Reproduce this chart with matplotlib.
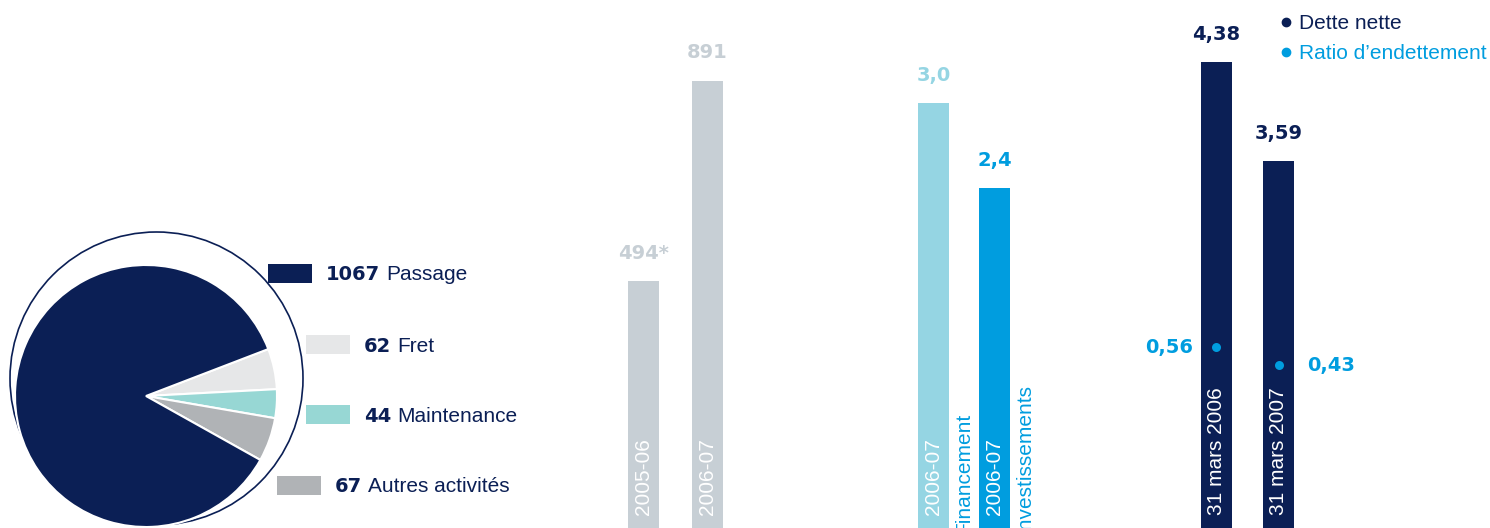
import matplotlib.pyplot as plt
from matplotlib.lines import Line2D
from matplotlib.patches import Circle, Rectangle

# chiffre d'affaires par activité
segments = ['Passage', 'Fret', 'Maintenance', 'Autres activités']
segment_values = [1067, 62, 44, 67]

# résultat
result_years = ['2005-06', '2006-07']
result_values = [494, 891]
result_labels = ['494*', '891']

# financement / investissements
flow_years = ['2006-07', '2006-07']
flow_names = ['Financement', 'Investissements']
flow_values = [3.0, 2.4]

# dette nette et ratio d'endettement
debt_dates = ['31 mars 2006', '31 mars 2007']
debt_values = [4.38, 3.59]
ratio_values = [0.56, 0.43]

NAVY = '#0b1f55'
GREY = '#c7cfd5'
CYAN = '#95d5e3'
BLUE = '#009ddf'
pie_colors = [NAVY, '#e6e7e8', '#97d7d4', '#b0b3b6']

BOLD = dict(family='DejaVu Sans', weight='bold', fontsize=14)
LIGHT = dict(family='Liberation Sans', fontsize=15)

W, H = 1490, 528
fig = plt.figure(figsize=(W / 100, H / 100), dpi=100)


def fr(v, nd):
    return f'{v:.{nd}f}'.replace('.', ',')


# --- camembert ---
axp = fig.add_axes([0, 0, 1, 1])
axp.add_patch(Circle((156.5, H - 378.5), 146.5, fill=False, ec=NAVY, lw=1.2, zorder=0))
order = [1, 2, 3, 0]
axp.pie([segment_values[i] for i in order], colors=[pie_colors[i] for i in order],
        startangle=21, counterclock=False, center=(146, H - 396), radius=131,
        frame=True, wedgeprops=dict(edgecolor='white', linewidth=1.5))
axp.set_xlim(0, W)
axp.set_ylim(0, H)
axp.axis('off')

key_boxes = [(268, 264), (306, 335), (306, 405), (277, 476)]
r = fig.canvas.get_renderer()
for i, (bx, by) in enumerate(key_boxes):
    axp.add_patch(Rectangle((bx, H - by - 19), 44, 19, color=pie_colors[i], lw=0, zorder=3))
    yb = H - (by + 9.5 + 7)
    t = axp.text(bx + 58, yb, str(segment_values[i]), color=NAVY, va='baseline', **BOLD)
    w = t.get_window_extent(r).width
    axp.text(bx + 58 + w + 6, yb, segments[i], color=NAVY, va='baseline', **LIGHT)


def bar_panel(c0, step, ylim):
    ax = fig.add_axes([(c0 - step) / W, 0, 3 * step / W, 1])
    ax.set_xlim(-1, 2)
    ax.set_ylim(*ylim)
    ax.axis('off')
    return ax


def inner_labels(ax, labels):
    for i, lbl in enumerate(labels):
        ax.annotate(lbl, (i, 0), xycoords=('data', 'axes fraction'), xytext=(0, 13),
                    textcoords='offset pixels', rotation=90, ha='center', va='bottom',
                    color='white', **LIGHT)


def value_labels(ax, values, labels, colors):
    for i, (v, lbl) in enumerate(zip(values, labels)):
        ax.annotate(lbl, (i, v), xytext=(0, 28), textcoords='offset pixels',
                    ha='center', va='center', color=colors[i], **BOLD)


# --- résultat ---
ax2 = bar_panel(643.5, 63.5, (3.97, 1051.6))
ax2.bar([0, 1], result_values, width=31 / 63.5, color=GREY)
value_labels(ax2, result_values, result_labels, [GREY, GREY])
inner_labels(ax2, result_years)

# --- financement / investissements ---
ax3 = bar_panel(933.5, 61, (0.014, 3.724))
ax3.bar([0, 1], flow_values, width=31 / 61, color=[CYAN, BLUE])
value_labels(ax3, flow_values, [fr(v, 1) for v in flow_values], [CYAN, BLUE])
inner_labels(ax3, flow_years)
for i, name in enumerate(flow_names):
    ax3.annotate(name, (i, 0), xycoords=('data', 'axes fraction'), xytext=(30, -6),
                 textcoords='offset pixels', rotation=90, ha='center', va='bottom',
                 color=BLUE, **LIGHT)

# --- dette nette ---
ax4 = bar_panel(1216, 62.5, (0.662, 4.876))
ax4.bar([0, 1], debt_values, width=31 / 62.5, color=NAVY)
value_labels(ax4, debt_values, [fr(v, 2) for v in debt_values], [NAVY, NAVY])
inner_labels(ax4, debt_dates)

ax4b = fig.add_axes(ax4.get_position())
ax4b.set_xlim(-1, 2)
ax4b.set_ylim(-0.747, 3.066)
ax4b.axis('off')
ax4b.scatter([0, 1], ratio_values, s=42, color=BLUE, lw=0, zorder=3)
for i, (v, dx, ha) in enumerate(zip(ratio_values, [-23, 29], ['right', 'left'])):
    ax4b.annotate(fr(v, 2), (i, v), xytext=(dx, 0), textcoords='offset pixels',
                  ha=ha, va='center', color=BLUE, **BOLD)

handles = [Line2D([], [], marker='o', ls='', color=NAVY, markersize=6),
           Line2D([], [], marker='o', ls='', color=BLUE, markersize=6)]
fig.legend(handles, ['Dette nette', 'Ratio d\u2019endettement'], loc='upper left',
           bbox_to_anchor=(1281 / W, 1 - 14 / H), frameon=False, labelcolor='markerfacecolor',
           handlelength=0.5, handletextpad=0.35, labelspacing=0.55, borderpad=0,
           borderaxespad=0, prop=dict(family='Liberation Sans', size=15))

fig.savefig('out.png', dpi=100)
